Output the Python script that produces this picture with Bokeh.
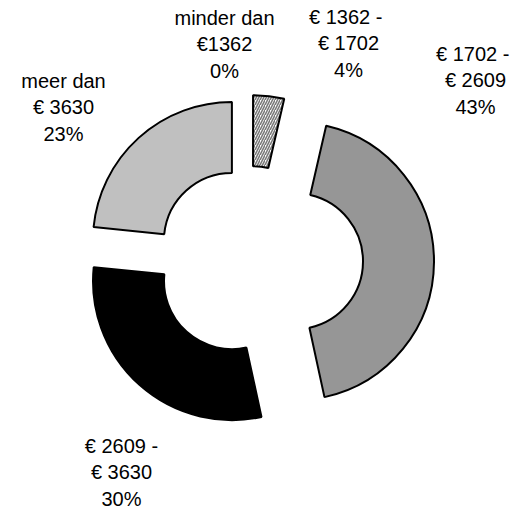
import math
from bokeh.plotting import figure
from bokeh.models import Range1d
from bokeh.embed import file_html
from bokeh.resources import INLINE
from bokeh.core.properties import value

# ---- data ----
categories = ["minder dan\n€1362", "€ 1362  -\n€ 1702", "€ 1702  -\n€ 2609",
              "€ 2609 -\n€ 3630", "meer dan\n€ 3630"]
shares = [0.0, 3.6, 43.0, 30.0, 23.4]

# ---- style / layout ----
fills = ["#ffffff", "#ffffff", "#969696", "#000000", "#c0c0c0"]
hatches = [None, "/", None, None, None]
explode = [27, 27, 45, 27, 27]
W, H = 523, 509
OFF = 0
# label anchors in page pixels
label_px = [224, 348, 475, 121, 63]
label_py = [44, 43, 80, 472, 107]
center_px, center_py = 249.5, 260.5
R_OUT, R_IN = 139, 68


def to_data(px, py):
    return px - OFF, (H + OFF) - py


p = figure(width=W, height=H, x_range=Range1d(0, W), y_range=Range1d(0, H),
           output_backend="svg", toolbar_location=None, min_border=0)
p.axis.visible = False
p.grid.visible = False
p.outline_line_color = None
p.background_fill_color = "white"

cx0, cy0 = to_data(center_px, center_py)
total = sum(shares)
cum = 0.0
for cat, s, fc, hp, d in zip(categories, shares, fills, hatches, explode):
    t0 = cum / total * 360.0
    t1 = (cum + s) / total * 360.0
    cum += s
    if s <= 0:
        continue
    mid = math.radians((t0 + t1) / 2)
    cx = cx0 + d * math.sin(mid)
    cy = cy0 + d * math.cos(mid)
    kw = {}
    if hp:
        kw = dict(hatch_pattern=hp, hatch_color="#7a7a7a", hatch_scale=5, hatch_weight=1.6)
    p.annular_wedge(x=[cx], y=[cy], inner_radius=R_IN, outer_radius=R_OUT,
                    start_angle=math.radians(90 - t0), end_angle=math.radians(90 - t1),
                    direction="clock", fill_color=fc, line_color="black",
                    line_width=2, **kw)

labels = [f"{c}\n{round(s):d}%" for c, s in zip(categories, shares)]
lx, ly = zip(*[to_data(a, b) for a, b in zip(label_px, label_py)])
p.text(x=list(lx), y=list(ly), text=labels, text_font=value("Liberation Sans"),
       text_font_size="20px", text_align="center", text_baseline="middle",
       text_line_height=1.2, text_color="black")

open("out.html", "w").write(file_html(p, INLINE))
